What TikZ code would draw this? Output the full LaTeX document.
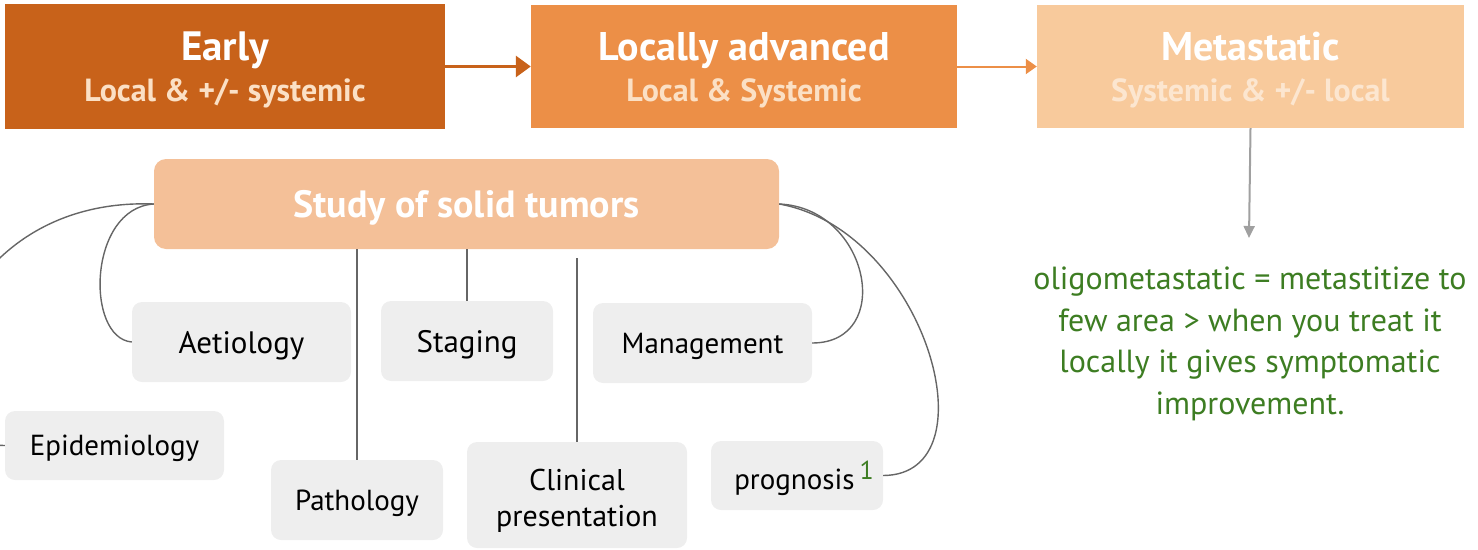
\documentclass[tikz,border=0pt]{standalone}
\usepackage{fontspec}
\setmainfont{PT Sans}
\usepackage{tikz}
\usetikzlibrary{arrows.meta}
\definecolor{earlyorange}{HTML}{C8621A}
\definecolor{advorange}{HTML}{EC8F47}
\definecolor{metapeach}{HTML}{F8CA9C}
\definecolor{subpeach}{HTML}{FBE0C5}
\definecolor{metasub}{HTML}{FCE6D0}
\definecolor{studypeach}{HTML}{F4C098}
\definecolor{topicgrey}{HTML}{EEEEEE}
\definecolor{linkgrey}{HTML}{666666}
\definecolor{arrowgrey}{HTML}{A0A0A0}
\definecolor{notegreen}{HTML}{3D7D22}

\begin{document}
\begin{tikzpicture}[
                    x=1pt, y=-1pt,
                    stage/.style={inner sep=0pt, align=center, text=white, text depth=0pt},
                    topic/.style={fill=topicgrey, rounded corners=10pt, inner sep=0pt, align=center, text=black, text depth=0pt},
                    link/.style={draw=linkgrey, line width=1.4pt},
                    every node/.style={font=\fontsize{31}{34}\selectfont}
                ]
                  \useasboundingbox (0,0) rectangle (1478,549);
                  % stages of disease
                  \node[stage, fill=earlyorange, minimum width=440, minimum height=125] (early) at (225,66.5)
                    {{\bfseries\fontsize{41}{42}\selectfont Early}\\[7pt]
                     {\bfseries\fontsize{32}{34}\selectfont\color{subpeach} Local \& +/- systemic}};
                  \node[stage, fill=advorange, minimum width=426, minimum height=123] (adv) at (744,66.5)
                    {{\bfseries\fontsize{40}{42}\selectfont Locally advanced}\\[7pt]
                     {\bfseries\fontsize{32}{34}\selectfont\color{subpeach} Local \& Systemic}};
                  \node[stage, fill=metapeach, minimum width=427, minimum height=123] (meta) at (1250.5,66.5)
                    {{\bfseries\fontsize{40}{42}\selectfont Metastatic}\\[7pt]
                     {\bfseries\fontsize{32}{34}\selectfont\color{metasub} Systemic \& +/- local}};
                  \draw[earlyorange, line width=3pt, -{Triangle[length=15pt, width=21pt]}] (early.east) -- (adv.west);
                  \draw[advorange, line width=2pt, -{Triangle[length=11pt, width=15pt]}] (adv.east) -- (meta.west);
                  \coordinate (noteend) at (1249,238);
                  \draw[arrowgrey, line width=2pt, -{Triangle[length=12pt, width=11pt]}] (meta.south) -- (noteend);
                  \node[text=notegreen, align=center, font=\fontsize{32}{41.5}\selectfont] (note) at (1250,344)
                    {oligometastatic = metastitize to\\ few area > when you treat it\\ locally it gives symptomatic\\ improvement.};

                  % mind map
                  \node[fill=studypeach, rounded corners=12pt, minimum width=625, minimum height=90, inner sep=0pt, text depth=0pt,
                        text=white, font=\bfseries\fontsize{38}{40}\selectfont] (study) at (466.5,204) {Study of solid tumors};
                  \node[topic, minimum width=219, minimum height=80] (aet) at (241.5,342) {Aetiology};
                  \node[topic, minimum width=172, minimum height=80] (stag) at (467,341) {Staging};
                  \node[topic, minimum width=219, minimum height=80, font=\fontsize{29}{30}\selectfont] (mgmt) at (702.5,343) {Management};
                  \node[topic, minimum width=219, minimum height=69, font=\fontsize{29}{30}\selectfont] (epi) at (114.5,445.5) {Epidemiology};
                  \node[topic, minimum width=172, minimum height=80, font=\fontsize{29}{30}\selectfont] (path) at (357,500) {Pathology};
                  \node[topic, minimum width=220, minimum height=106, font=\fontsize{30}{36}\selectfont] (clin) at (577,495)
                    {\rule{0pt}{26pt}Clinical\\presentation};
                  \node[topic, minimum width=172, minimum height=69, font=\fontsize{29}{30}\selectfont] (prog) at (797,475.5)
                    {\hspace*{14pt}prognosis\kern5pt\raisebox{10pt}{\color{notegreen}\fontsize{26}{26}\selectfont 1}};
                  \coordinate (clintop) at (577,258);

                  \draw[link] (study.west) .. controls (88,208) and (85,338) .. (aet.west);
                  \draw[link] (study.west) .. controls (-60,196) and (-110,446) .. (epi.west);
                  \draw[link] (path.north |- study.south) -- (path.north);
                  \draw[link] (stag.north |- study.south) -- (stag.north);
                  \draw[link] (clintop) -- (clin.north);
                  \draw[link] (study.east) .. controls (870,208) and (895,343) .. (mgmt.east);
                  \draw[link] (study.east) .. controls (925,230) and (995,475) .. (prog.east);
                \end{tikzpicture}
\end{document}
